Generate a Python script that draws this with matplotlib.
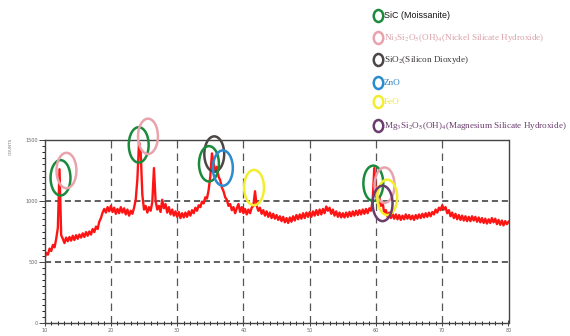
#!/usr/bin/env python

import numpy as np
import matplotlib.pyplot as plt
from matplotlib.patches import Ellipse

# XRD pattern, counts read every 0.25 deg 2theta from 10 to 80
counts = [
    530, 575, 560, 610, 590, 640, 620, 690, 780, 1260, 720, 690, 655, 700, 670, 705, 675, 715, 680, 720,
    690, 725, 700, 735, 705, 745, 715, 750, 725, 770, 745, 790, 770, 830, 860, 905, 935, 905, 950, 915,
    960, 910, 945, 895, 935, 900, 950, 905, 940, 890, 930, 880, 920, 895, 945, 1010, 1180, 1480, 1400, 1050,
    930, 960, 905, 950, 920, 990, 1270, 1000, 930, 960, 910, 1010, 940, 975, 905, 950, 890, 930, 880, 915,
    870, 910, 860, 900, 865, 905, 870, 915, 880, 925, 900, 945, 920, 965, 950, 995, 980, 1030, 1020, 1090,
    1200, 1390, 1310, 1250, 1280, 1200, 1170, 1110, 1080, 1030, 1010, 960, 975, 925, 950, 900, 940, 975, 910, 950,
    900, 935, 890, 930, 900, 945, 960, 1080, 960, 920, 945, 895, 925, 880, 915, 870, 905, 860, 895, 855,
    885, 845, 875, 835, 870, 825, 860, 820, 865, 830, 875, 840, 885, 850, 890, 855, 900, 860, 905, 870,
    910, 870, 915, 880, 925, 885, 930, 890, 935, 900, 955, 920, 945, 895, 930, 880, 915, 870, 905, 865,
    900, 865, 905, 870, 910, 875, 915, 880, 920, 885, 925, 890, 930, 895, 935, 900, 940, 920, 1000, 1270,
    1050, 1000, 1030, 960, 990, 900, 925, 870, 905, 860, 895, 855, 890, 850, 885, 845, 880, 850, 890, 855,
    885, 850, 880, 845, 885, 855, 890, 860, 895, 865, 900, 870, 905, 875, 910, 890, 930, 905, 945, 925,
    965, 930, 950, 900, 925, 875, 905, 860, 895, 850, 885, 845, 880, 840, 875, 835, 870, 835, 875, 840,
    870, 830, 865, 825, 860, 820, 855, 815, 850, 820, 860, 825, 855, 810, 845, 805, 840, 800, 835, 810,
    830,
]
two_theta = np.linspace(10, 80, len(counts))

# phase marker circles (2theta, counts, colour)
circle_x = [12.4, 13.3, 24.2, 25.6, 35.6, 34.8, 36.9, 41.6, 59.6, 61.3, 61.7, 61.0]
circle_y = [1190, 1250, 1460, 1530, 1385, 1305, 1270, 1110, 1145, 1130, 1030, 980]
circle_c = ["green", "pink", "green", "pink", "gray", "green", "blue", "yellow",
            "green", "pink", "yellow", "purple"]

colors = {"green": "#1c8a3c", "pink": "#e8a3ad", "gray": "#4d4646",
          "blue": "#2a8ccf", "yellow": "#f2ee2e", "purple": "#6b3d6e"}

legend_labels = [
    "SiC (Moissanite)",
    r"Ni$_3$Si$_2$O$_5$(OH)$_4$(Nickel Silicate Hydroxide)",
    r"SiO$_2$(Silicon Dioxyde)",
    "ZnO",
    "FeO",
    r"Mg$_3$Si$_2$O$_5$(OH)$_4$(Magnesium Silicate Hydroxide)",
]
legend_keys = ["green", "pink", "gray", "blue", "yellow", "purple"]
legend_text_colors = ["#151515", "#d9a0a8", "#3a3535", "#2a7fc0", "#ece33a", "#6b3d6e"]

plt.rcParams["mathtext.fontset"] = "stix"

W, H = 570, 336
fig = plt.figure(figsize=(W / 100, H / 100), dpi=100)
ax = fig.add_axes([44.6 / W, 1 - 323 / H, (508.5 - 44.6) / W, (323 - 140) / H])

ax.plot(two_theta, counts, color="#ff1414", lw=1.7)

ax.set_xlim(10, 80)
ax.set_ylim(0, 1500)
ax.set_xticks(np.arange(10, 81, 10))
ax.set_yticks([0, 500, 1000, 1500])
ax.set_xticks(np.arange(10, 81, 1), minor=True)
ax.set_yticks(np.arange(0, 1501, 50), minor=True)
ax.tick_params(labelsize=3.5, labelcolor="#666666", color="#444444", width=0.7)
ax.tick_params(axis="x", which="both", direction="inout", pad=1)
ax.tick_params(axis="x", which="major", length=5)
ax.tick_params(axis="x", which="minor", length=3)
ax.tick_params(axis="y", which="major", length=4, pad=1)
ax.tick_params(axis="y", which="minor", length=2.5)
for s in ax.spines.values():
    s.set_color("#444444")
    s.set_linewidth(1.0)

for v in [20, 30, 40, 50, 60, 70]:
    ax.axvline(v, color="#555555", lw=0.9, ls=(0, (6, 4)), zorder=0)
for v in [500, 1000, 1500]:
    ax.axhline(v, color="#333333", lw=1.1, ls=(0, (4, 2.5)), zorder=0)

for cx, cy, c in zip(circle_x, circle_y, circle_c):
    ax.add_patch(Ellipse((cx, cy), 3.0, 290, fill=False, ec=colors[c],
                         lw=1.8, clip_on=False, zorder=5))

fig.text(11 / W, 1 - 146 / H, "COUNTS", rotation=90, fontsize=3,
         color="#777777", ha="center", va="center")

legend_y = [16, 38, 60, 83, 102, 126]
for lab, key, tc, ly in zip(legend_labels, legend_keys, legend_text_colors, legend_y):
    fig.add_artist(Ellipse((378.5 / W, 1 - ly / H), 9.5 / W, 12 / H,
                           transform=fig.transFigure, fill=False,
                           ec=colors[key], lw=1.8))
    if key == "green":
        fig.text(383.5 / W, 1 - ly / H, lab, fontsize=6.4, family="Liberation Sans",
                 color=tc, ha="left", va="center")
    else:
        fig.text(383.5 / W, 1 - ly / H, lab, fontsize=6.6, family="Liberation Serif",
                 color=tc, ha="left", va="center")

fig.savefig("out.png", dpi=100)
